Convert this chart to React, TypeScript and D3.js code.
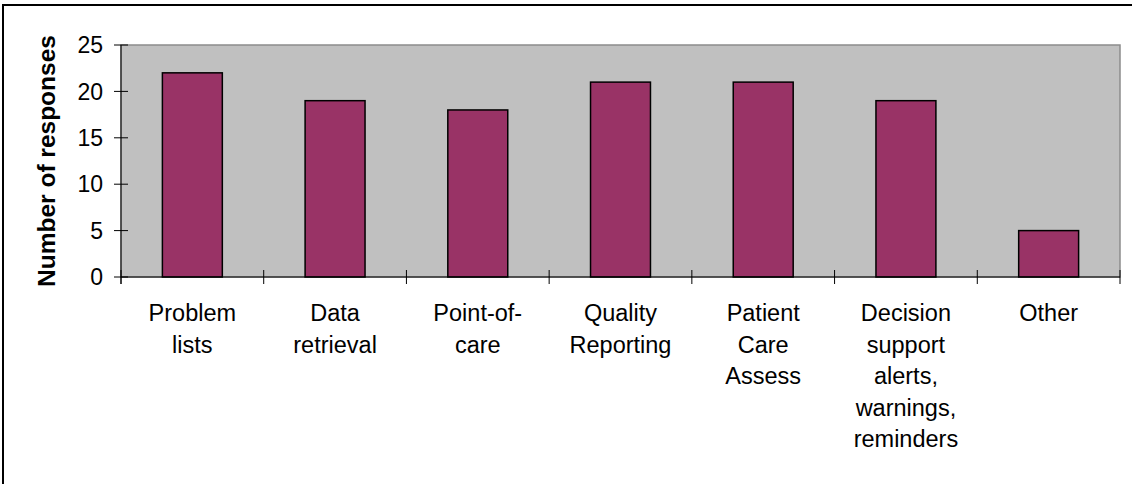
import { useEffect, useRef } from 'react';
import * as d3 from 'd3';

const categories: string[][] = [
  ['Problem', 'lists'],
  ['Data', 'retrieval'],
  ['Point-of-', 'care'],
  ['Quality', 'Reporting'],
  ['Patient', 'Care', 'Assess'],
  ['Decision', 'support', 'alerts,', 'warnings,', 'reminders'],
  ['Other'],
];
const responses = [22, 19, 18, 21, 21, 19, 5];
const yTicks = [0, 5, 10, 15, 20, 25];

const W = 1132;
const H = 484;
const plot = { left: 121, top: 45, right: 1120, bottom: 277 };

export default function App() {
  const svgRef = useRef<SVGSVGElement>(null);

  useEffect(() => {
    if (!svgRef.current) return;
    const svg = d3.select(svgRef.current);
    svg.selectAll('*').remove();

    const font = 'Liberation Sans, Arial, sans-serif';
    const ids = categories.map((_, i) => String(i));

    const x = d3.scaleBand().domain(ids).range([plot.left, plot.right]).paddingInner(0).paddingOuter(0);
    const y = d3.scaleLinear().domain([0, 25]).range([plot.bottom, plot.top]);

    // outer chart border
    svg.append('rect')
      .attr('x', 3).attr('y', 5).attr('width', W + 10).attr('height', H + 10)
      .attr('fill', '#fff').attr('stroke', '#000').attr('stroke-width', 2);

    // plot area
    svg.append('rect')
      .attr('x', plot.left).attr('y', plot.top)
      .attr('width', plot.right - plot.left).attr('height', plot.bottom - plot.top)
      .attr('fill', '#c0c0c0').attr('stroke', '#8c8c8c').attr('stroke-width', 1.5);

    // bars
    const barW = x.bandwidth() * 0.42;
    svg.append('g').selectAll('rect')
      .data(responses)
      .join('rect')
      .attr('x', (_, i) => (x(ids[i]) as number) + (x.bandwidth() - barW) / 2)
      .attr('y', d => y(d))
      .attr('width', barW)
      .attr('height', d => y(0) - y(d))
      .attr('fill', '#993366')
      .attr('stroke', '#000')
      .attr('stroke-width', 1.5);

    // y axis
    const ya = svg.append('g');
    ya.append('line')
      .attr('x1', plot.left).attr('x2', plot.left)
      .attr('y1', plot.top).attr('y2', plot.bottom + 7)
      .attr('stroke', '#000').attr('stroke-width', 1);
    ya.selectAll('line.tick')
      .data(yTicks)
      .join('line')
      .attr('class', 'tick')
      .attr('x1', plot.left - 7).attr('x2', plot.left + 7)
      .attr('y1', d => y(d)).attr('y2', d => y(d))
      .attr('stroke', '#000');
    ya.selectAll('text')
      .data(yTicks)
      .join('text')
      .attr('x', 103)
      .attr('y', d => y(d))
      .attr('dy', '0.36em')
      .attr('text-anchor', 'end')
      .attr('font-family', font)
      .attr('font-size', 23)
      .attr('fill', '#000')
      .text(d => d);

    // x axis
    const xa = svg.append('g');
    xa.append('line')
      .attr('x1', plot.left).attr('x2', plot.right)
      .attr('y1', plot.bottom).attr('y2', plot.bottom)
      .attr('stroke', '#000').attr('stroke-width', 1);
    const edges = ids.map(id => x(id) as number).concat([plot.right]);
    xa.selectAll('line.tick')
      .data(edges)
      .join('line')
      .attr('class', 'tick')
      .attr('x1', d => d).attr('x2', d => d)
      .attr('y1', plot.bottom - 7).attr('y2', plot.bottom + 7)
      .attr('stroke', '#000');

    const labels = xa.selectAll('text')
      .data(categories)
      .join('text')
      .attr('x', (_, i) => (x(ids[i]) as number) + x.bandwidth() / 2)
      .attr('y', 321)
      .attr('text-anchor', 'middle')
      .attr('font-family', font)
      .attr('font-size', 23.5)
      .attr('fill', '#000');
    labels.each(function (lines, i) {
      const cx = (x(ids[i]) as number) + x.bandwidth() / 2;
      d3.select(this).selectAll('tspan')
        .data(lines)
        .join('tspan')
        .attr('x', cx)
        .attr('dy', (_, j) => (j === 0 ? 0 : 31.5))
        .text(d => d);
    });

    // y axis title
    svg.append('text')
      .attr('transform', `translate(55,${(plot.top + plot.bottom) / 2}) rotate(-90)`)
      .attr('text-anchor', 'middle')
      .attr('font-family', font)
      .attr('font-weight', 'bold')
      .attr('font-size', 24.5)
      .attr('fill', '#000')
      .text('Number of responses');
  }, []);

  return (
    <svg
      ref={svgRef}
      width={W}
      height={H}
      style={{ position: 'absolute', left: 0, top: 0, background: '#fff' }}
    />
  );
}
